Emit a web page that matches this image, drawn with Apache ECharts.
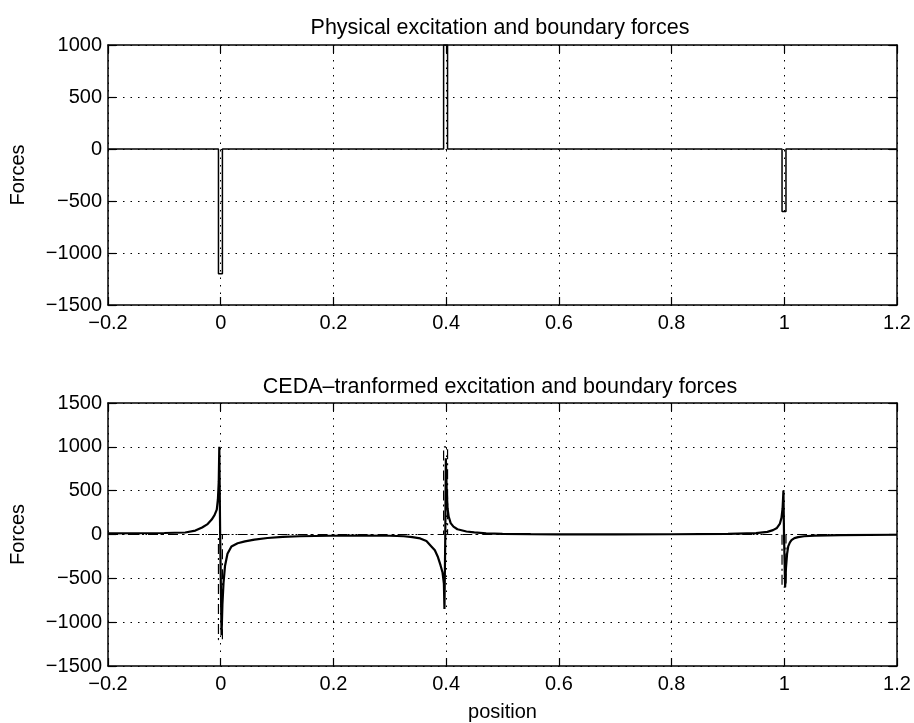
<!DOCTYPE html>
<html><head><meta charset="utf-8">
<script src="https://cdn.jsdelivr.net/npm/echarts@6/dist/echarts.min.js"></script>
<style>html,body{margin:0;padding:0;background:#fff}#c{width:914px;height:723px}</style>
</head><body><div id="c"></div>
<script>
// ---- data ----
const topTitle = 'Physical excitation and boundary forces';
const bottomTitle = 'CEDA\u2013tranformed excitation and boundary forces';
const yLabel = 'Forces';
const xLabel = 'position';

// physical excitation and boundary forces (narrow pulses)
const physX = [-0.2, -0.004, -0.004, 0.003, 0.003, 0.3955, 0.3955, 0.4025, 0.4025, 0.996, 0.996, 1.003, 1.003, 1.2];
const physY = [0, 0, -1200, -1200, 0, 0, 1000, 1000, 0, 0, -600, -600, 0, 0];

// CEDA-transformed forces
const cedaX = [-0.2, -0.15, -0.1, -0.063, -0.045, -0.033, -0.024, -0.016, -0.011, -0.007, -0.005, -0.0035, -0.0025,
  -0.001, 0.0015, 0.003, 0.005, 0.0076, 0.012, 0.019, 0.03, 0.043, 0.06, 0.083, 0.11, 0.14, 0.195, 0.25, 0.3,
  0.325, 0.34, 0.354, 0.365, 0.373, 0.38, 0.385, 0.39, 0.3935, 0.396, 0.397,
  0.3985, 0.3995, 0.401, 0.4025, 0.4045, 0.408, 0.413, 0.42, 0.436, 0.45, 0.471, 0.5, 0.55, 0.6, 0.7, 0.8, 0.9,
  0.95, 0.97, 0.98, 0.987, 0.992, 0.995, 0.997, 0.9985, 0.9995, 1.0015, 1.003, 1.005, 1.007, 1.01, 1.0128,
  1.018, 1.0246, 1.035, 1.054, 1.1, 1.2];
const cedaY = [12, 14, 17, 23, 45, 80, 115, 170, 220, 284, 400, 600, 1000,
  0, -1150, -800, -550, -360, -220, -136, -100, -78, -58, -40, -28, -20, -14, -12, -14,
  -20, -30, -45, -75, -130, -180, -250, -350, -430, -560, -850,
  0, 870, 500, 300, 205, 130, 90, 60, 34, 24, 12, 7, 4, 2, 1, 3, 8,
  15, 30, 50, 75, 120, 190, 300, 500, 0, -600, -380, -220, -136, -90, -65,
  -42, -30, -20, -12, -6, -3];

const xMin = -0.2, xMax = 1.2, xStep = 0.2;
const topYMin = -1500, topYMax = 1000, yStep = 500;
const botYMin = -1500, botYMax = 1500;

// ---- chart ----
const FONT = '"Liberation Sans", Arial, Helvetica, sans-serif';
const FS = 20;
const FS_T = 21.5;
const zip = (a, b) => a.map((v, i) => [v, b[i]]);
const fmtX = v => String(Math.round(v * 10) / 10).replace('-', '\u2212');
const fmtY = v => String(Math.round(v)).replace('-', '\u2212');
const gridLine = { show: true, lineStyle: { color: '#000', width: 1, type: [1.5, 6] } };

function xAx(gi, main, name) {
  return {
    type: 'value', gridIndex: gi, min: xMin, max: xMax, interval: xStep,
    position: main ? 'bottom' : 'top',
    name: name || '', nameLocation: 'middle', nameGap: 36,
    nameTextStyle: { color: '#000', fontFamily: FONT, fontSize: FS },
    axisLine: { show: true, onZero: false, lineStyle: { color: '#000', width: 1.5 } },
    axisTick: { show: true, inside: true, length: 8, lineStyle: { color: '#000', width: 1.2 } },
    axisLabel: { show: main, color: '#000', fontFamily: FONT, fontSize: FS, margin: 8, formatter: fmtX },
    splitLine: main ? gridLine : { show: false }
  };
}
function yAx(gi, main, mn, mx) {
  return {
    type: 'value', gridIndex: gi, min: mn, max: mx, interval: yStep,
    position: main ? 'left' : 'right',
    name: main ? yLabel : '', nameLocation: 'middle', nameGap: 80,
    nameTextStyle: { color: '#000', fontFamily: FONT, fontSize: FS },
    axisLine: { show: true, onZero: false, lineStyle: { color: '#000', width: 1.5 } },
    axisTick: { show: true, inside: true, length: 8, lineStyle: { color: '#000', width: 1.2 } },
    axisLabel: { show: main, color: '#000', fontFamily: FONT, fontSize: FS, margin: 6, formatter: fmtY },
    splitLine: main ? gridLine : { show: false }
  };
}

const chart = echarts.init(document.getElementById('c'), null, { renderer: 'canvas' });
chart.setOption({
  animation: false,
  backgroundColor: '#fff',
  grid: [
    { left: 101, top: 45, width: 796, height: 260 },
    { left: 101, top: 403, width: 796, height: 264 }
  ],
  xAxis: [xAx(0, true), xAx(0, false), xAx(1, true, xLabel), xAx(1, false)],
  yAxis: [yAx(0, true, topYMin, topYMax), yAx(0, false, topYMin, topYMax),
          yAx(1, true, botYMin, botYMax), yAx(1, false, botYMin, botYMax)],
  graphic: [
    { type: 'text', style: { text: topTitle, x: 500, y: 28, align: 'center', verticalAlign: 'middle', fontSize: FS_T, fontFamily: FONT, fill: '#000' } },
    { type: 'text', style: { text: bottomTitle, x: 500, y: 387, align: 'center', verticalAlign: 'middle', fontSize: FS_T, fontFamily: FONT, fill: '#000' } }
  ],
  series: [
    { type: 'line', xAxisIndex: 0, yAxisIndex: 0, data: zip(physX, physY), showSymbol: false, clip: true,
      lineStyle: { color: '#000', width: 1.5 } },
    { type: 'line', xAxisIndex: 2, yAxisIndex: 2, data: zip(physX, physY), showSymbol: false, clip: true,
      lineStyle: { color: '#000', width: 1.2, type: [10, 4, 2, 4] } },
    { type: 'line', xAxisIndex: 2, yAxisIndex: 2, data: zip(cedaX, cedaY), showSymbol: false, clip: true,
      lineStyle: { color: '#000', width: 2.2 } }
  ]
});
</script></body></html>
